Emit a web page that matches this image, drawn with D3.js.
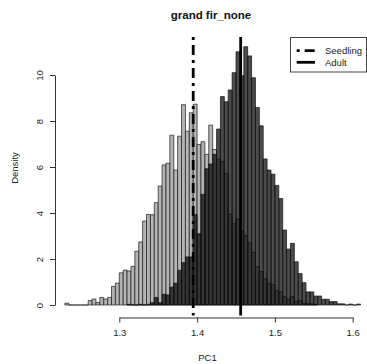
<!DOCTYPE html>
<html>
<head>
<meta charset="utf-8">
<script src="https://cdn.jsdelivr.net/npm/d3@7"></script>
<style>
  body { margin: 0; background: white; }
  text { font-family: "Liberation Sans", Arial, sans-serif; }
</style>
</head>
<body>
<script>
        //size of the picture
        var width = 367;
        var height = 364;

        //histogram bins, all 0.005 wide
        var binWidth = 0.005;
        var seedlingStart = 1.230;
        var adultStart = 1.310;

        //density per bin
        var seedlingDensity = [0.08, 0, 0, 0, 0, 0, 0.19, 0.26, 0.11, 0.33,
                               0.26, 0.33, 0.81, 0.95, 1.40, 1.52, 1.48, 1.68, 2.34, 2.74,
                               3.65, 3.94, 3.92, 4.45, 5.17, 6.09, 6.16, 7.38, 5.87, 7.34,
                               8.71, 7.56, 8.36, 8.73, 6.98, 7.10, 6.55, 7.82, 6.76, 6.34,
                               6.23, 5.71, 3.95, 3.53, 3.74, 3.22, 3.01, 2.70, 2.29, 1.66,
                               1.45, 1.14, 0.94, 0.88, 0.62, 0.57, 0.36, 0.26, 0.36, 0.16,
                               0.19, 0.08, 0.05, 0.05, 0.03];
        var adultDensity = [0.03, 0, 0, 0.03, 0, 0.03, 0.10, 0.33, 0.10, 0.47,
                            0.44, 0.78, 0.95, 1.51, 1.84, 2.09, 2.09, 3.93, 3.10, 4.81,
                            5.92, 6.13, 6.55, 7.65, 9.06, 8.84, 9.35, 10.10, 11.01, 9.97,
                            11.23, 10.83, 9.88, 8.59, 7.79, 6.35, 5.87, 5.69, 5.20, 4.63,
                            3.26, 2.43, 2.68, 1.88, 1.37, 0.97, 0.57, 0.57, 0.39, 0.39,
                            0.25, 0.25, 0.15, 0.15, 0.05, 0.05, 0, 0.04, 0, 0.04];

        //mean lines
        var seedlingMean = 1.395;
        var adultMean = 1.456;

        //axis ticks
        var xTicks = [1.3, 1.4, 1.5, 1.6];
        var yTicks = [0, 2, 4, 6, 8, 10];

        var legendLabels = ["Seedling", "Adult"];

        //plot region edges
        var plotTop = 37;
        var plotBottom = 315.5;

        //scales, set so the ticks land where the picture has them
        var x = d3.scaleLinear().domain([1.3, 1.6]).range([119.3, 352.7]);
        var y = d3.scaleLinear().domain([0, 10]).range([305, 75]);

        var svg = d3.select("body")
                    .append("svg")
                    .attr("width", width)
                    .attr("height", height);

        //turn the density arrays into bins
        function makeBins(start, values) {
            return values.map(function(v, i) {
                var x0 = Math.round((start + i * binWidth) * 1000) / 1000;
                return {x0: x0, x1: x0 + binWidth, d: v};
            });
        }

        //a path instead of rect so empty bins still draw a flat line like R does
        function barPath(b) {
            return "M" + x(b.x0) + "," + y(0) +
                   "V" + y(b.d) +
                   "H" + x(b.x1) +
                   "V" + y(0) + "Z";
        }

        //seedling first, light gray
        svg.append("g")
           .selectAll("path")
           .data(makeBins(seedlingStart, seedlingDensity))
           .enter()
           .append("path")
           .attr("d", barPath)
           .style("fill", "#b4b4b4")
           .style("stroke", "#1a1a1a")
           .style("stroke-width", 0.7);

        //adult on top, see-through dark
        svg.append("g")
           .selectAll("path")
           .data(makeBins(adultStart, adultDensity))
           .enter()
           .append("path")
           .attr("d", barPath)
           .style("fill", "rgba(0,0,0,0.7)")
           .style("stroke", "#111")
           .style("stroke-width", 0.7);

        //vertical lines for the means
        svg.append("line")
           .attr("x1", x(seedlingMean))
           .attr("x2", x(seedlingMean))
           .attr("y1", plotTop)
           .attr("y2", plotBottom)
           .style("stroke", "black")
           .style("stroke-width", 2.8)
           .style("stroke-dasharray", "3,5,10,5");

        svg.append("line")
           .attr("x1", x(adultMean))
           .attr("x2", x(adultMean))
           .attr("y1", plotTop)
           .attr("y2", plotBottom)
           .style("stroke", "black")
           .style("stroke-width", 2.8);

        //x axis
        var xAxis = svg.append("g")
           .attr("transform", "translate(0,317.5)")
           .call(d3.axisBottom(x).tickValues(xTicks).tickSize(5).tickSizeOuter(0).tickPadding(7)
                 .tickFormat(d3.format(".1f")));

        xAxis.select(".domain").style("stroke", "#333");
        xAxis.selectAll(".tick line").style("stroke", "#333");
        xAxis.selectAll("text")
             .attr("font-size", "9.5px")
             .style("font-family", "'Liberation Sans', Arial, sans-serif")
             .style("fill", "#222");

        //y axis, labels turned like R
        var yAxis = svg.append("g")
           .attr("transform", "translate(55,0)")
           .call(d3.axisLeft(y).tickValues(yTicks).tickSize(5).tickSizeOuter(0));

        yAxis.select(".domain").style("stroke", "#333");
        yAxis.selectAll(".tick line").style("stroke", "#333");
        yAxis.selectAll("text")
             .attr("transform", "rotate(-90)")
             .attr("x", 0)
             .attr("y", -15)
             .attr("dy", "0.35em")
             .style("text-anchor", "middle")
             .attr("font-size", "9.5px")
             .style("font-family", "'Liberation Sans', Arial, sans-serif")
             .style("fill", "#222");

        //title and axis labels
        svg.append("text")
           .attr("x", 211)
           .attr("y", 19)
           .style("text-anchor", "middle")
           .attr("font-size", "11.5px")
           .attr("font-weight", "bold")
           .style("fill", "#111")
           .text("grand fir_none");

        svg.append("text")
           .attr("x", 207.5)
           .attr("y", 358)
           .attr("dy", "0.35em")
           .style("text-anchor", "middle")
           .attr("font-size", "9.5px")
           .style("fill", "#222")
           .text("PC1");

        svg.append("text")
           .attr("transform", "translate(15,168) rotate(-90)")
           .attr("dy", "0.35em")
           .style("text-anchor", "middle")
           .attr("font-size", "9.5px")
           .style("fill", "#222")
           .text("Density");

        //legend box
        svg.append("rect")
           .attr("x", 290.5)
           .attr("y", 37.5)
           .attr("width", 76)
           .attr("height", 34.5)
           .style("fill", "white")
           .style("stroke", "#444")
           .style("stroke-width", 1);

        var legendY = [50.7, 62.3];

        svg.append("line")
           .attr("x1", 296.7)
           .attr("x2", 315)
           .attr("y1", legendY[0])
           .attr("y2", legendY[0])
           .style("stroke", "black")
           .style("stroke-width", 2.8)
           .style("stroke-dasharray", "3,5,10,5");

        svg.append("line")
           .attr("x1", 296.7)
           .attr("x2", 315)
           .attr("y1", legendY[1])
           .attr("y2", legendY[1])
           .style("stroke", "black")
           .style("stroke-width", 2.8);

        svg.selectAll(".legendText")
           .data(legendLabels)
           .enter()
           .append("text")
           .attr("class", "legendText")
           .attr("x", 325)
           .attr("y", function(d, i) { return legendY[i]; })
           .attr("dy", "0.35em")
           .attr("font-size", "9.5px")
           .style("fill", "#222")
           .text(function(d) { return d; });
</script>
</body>
</html>
